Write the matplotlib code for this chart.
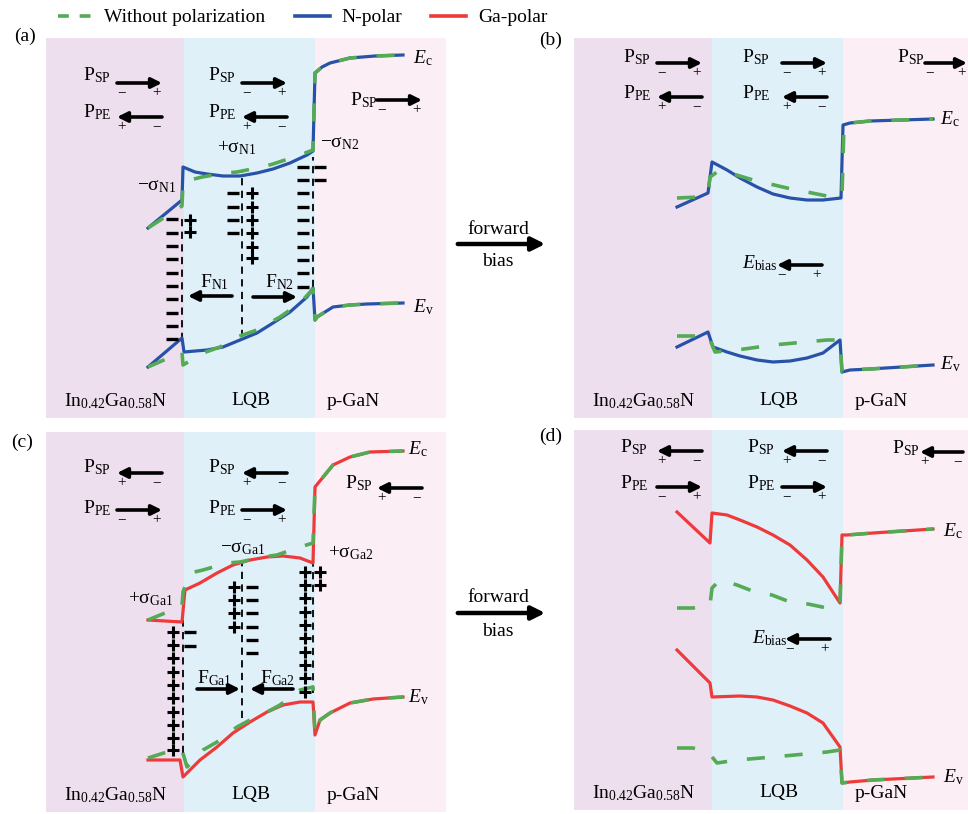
import matplotlib.pyplot as plt
from matplotlib.lines import Line2D
from matplotlib.patches import FancyArrowPatch

plt.rcParams['font.family'] = ['Liberation Serif', 'DejaVu Serif']
plt.rcParams['mathtext.fontset'] = 'custom'
plt.rcParams['mathtext.rm'] = 'Liberation Serif'
plt.rcParams['mathtext.it'] = 'Liberation Serif:italic'
plt.rcParams['mathtext.bf'] = 'Liberation Serif:bold'

# ---- data (x = position, E = energy, both in arbitrary units) ----
region_edges = [0, 138, 269, 400]
region_names = [r"$\mathrm{In}_{0.42}\mathrm{Ga}_{0.58}\mathrm{N}$", "LQB", "p-GaN"]
region_label_x = [70, 205, 307]

# (a) N-polar, zero bias
a_ec_x = [102, 136, 137, 149, 161, 177, 194, 211, 227, 244, 261, 267, 269, 276, 284, 304, 329, 357]
a_ec_y = [190, 218, 251, 246, 244, 242, 242, 245, 249, 255, 263, 267, 345, 351, 355, 360, 362, 363]
a_ev_x = [102, 136, 138, 161, 177, 194, 211, 227, 244, 261, 267, 269, 271, 287, 304, 321, 357]
a_ev_y = [51, 80, 66, 68, 71, 78, 85, 95, 106, 121, 130, 98, 101, 111, 113, 114, 115]
a0_ec_x = [102, 136, 137, 144, 156, 179, 191, 216, 227, 254, 267, 269, 276, 284, 304, 329, 357]
a0_ec_y = [190, 212, 236, 238, 241, 245, 246, 251, 254, 263, 268, 345, 351, 355, 360, 362, 363]
a0_ev_x = [102, 136, 137, 157, 174, 191, 211, 234, 254, 267, 269, 271, 287, 304, 321, 357]
a0_ev_y = [51, 66, 53, 65, 71, 81, 88, 101, 115, 129, 98, 101, 111, 113, 114, 115]

# (b) N-polar, forward bias
b_ec_x = [103, 134, 138, 153, 166, 183, 199, 216, 233, 249, 267, 269, 276, 296, 359]
b_ec_y = [211, 225, 256, 248, 240, 231, 224, 220, 218, 218, 220, 293, 295, 297, 299]
b_ev_x = [103, 134, 139, 153, 166, 183, 199, 216, 233, 249, 266, 268, 276, 296, 359]
b_ev_y = [71, 86, 71, 66, 62, 58, 56, 57, 60, 65, 78, 46, 48, 49, 53]
b0_ec_x = [103, 126, 134, 136, 146, 179, 213, 253, 266, 268, 270, 276, 296, 359]
b0_ec_y = [220, 221, 225, 241, 248, 238, 230, 222, 223, 223, 293, 295, 297, 299]
b0_ev_x = [103, 129, 134, 141, 163, 199, 253, 266, 268, 276, 296, 359]
b0_ev_y = [82, 82, 83, 66, 68, 73, 78, 78, 46, 48, 49, 53]

# (c) Ga-polar, zero bias
c_ec_x = [102, 136, 139, 154, 171, 187, 204, 221, 237, 254, 267, 269, 287, 304, 324, 357]
c_ec_y = [192, 190, 222, 229, 239, 247, 252, 255, 256, 254, 249, 325, 347, 355, 360, 361]
c_ev_x = [102, 134, 137, 154, 171, 187, 204, 221, 237, 254, 267, 269, 274, 284, 304, 327, 357]
c_ev_y = [52, 52, 35, 52, 65, 79, 90, 100, 107, 110, 110, 77, 92, 99, 109, 113, 115]
c0_ec_x = [102, 119, 136, 137, 144, 157, 181, 194, 217, 231, 254, 267, 269, 287, 304, 324, 357]
c0_ec_y = [192, 199, 206, 220, 239, 242, 249, 250, 255, 257, 265, 269, 325, 347, 355, 360, 361]
c0_ev_x = [102, 121, 136, 141, 157, 171, 191, 204, 221, 234, 254, 267, 269, 274, 284, 304, 327, 357]
c0_ev_y = [54, 60, 62, 45, 62, 70, 85, 92, 100, 107, 122, 125, 77, 92, 99, 109, 113, 115]

# (d) Ga-polar, forward bias
d_ec_x = [103, 136, 138, 153, 166, 183, 199, 216, 233, 249, 266, 268, 273, 299, 359]
d_ec_y = [298, 267, 297, 295, 290, 283, 275, 265, 250, 233, 207, 275, 275, 277, 281]
d_ev_x = [103, 136, 138, 166, 183, 199, 216, 233, 249, 266, 268, 276, 299, 359]
d_ev_y = [160, 127, 113, 114, 113, 110, 104, 97, 87, 63, 27, 28, 30, 33]
d0_ec_x = [103, 119, 136, 138, 146, 163, 181, 198, 216, 234, 253, 266, 268, 273, 299, 359]
d0_ec_y = [202, 202, 205, 222, 230, 225, 218, 215, 208, 206, 202, 204, 275, 275, 277, 281]
d0_ev_x = [103, 119, 134, 143, 163, 199, 253, 266, 268, 276, 299, 359]
d0_ev_y = [62, 62, 58, 47, 50, 53, 58, 60, 27, 28, 30, 33]

# interface charges
a_minus_x = [126] * 10 + [187] * 4 + [257] * 10 + [274] * 2
a_minus_y = ([199, 185, 172, 159, 145, 132, 119, 105, 92, 79] + [225, 211, 198, 185]
             + [251, 238, 225, 211, 198, 185, 171, 158, 145, 131] + [251, 238])
a_plus_x = [144] * 2 + [206] * 6
a_plus_y = [198, 186] + [225, 211, 198, 185, 171, 160]
c_plus_x = [127] * 10 + [188] * 4 + [259] * 10 + [274] * 2
c_plus_y = ([180, 167, 154, 140, 127, 114, 100, 87, 74, 62] + [225, 212, 199, 185]
            + [240, 227, 214, 200, 187, 174, 160, 147, 134, 120] + [240, 227])
c_minus_x = [144] * 2 + [206] * 6
c_minus_y = [180, 166] + [225, 212, 199, 185, 172, 159]

W, H = 968, 814
C_N = '#2752A8'
C_GA = '#EE3A3A'
C_0 = '#55AA55'
BG = ['#EEDFEE', '#E0F0F9', '#FBEFF5']
DASH = (0, (5, 5.5))

fig = plt.figure(figsize=(W / 100, H / 100), dpi=100)


def panel(left, bottom):
    ax = fig.add_axes([left / W, (H - bottom) / H, 400 / W, 380 / H])
    ax.set_xlim(0, 400)
    ax.set_ylim(0, 380)
    ax.set_axis_off()
    for i in range(3):
        ax.axvspan(region_edges[i], region_edges[i + 1], color=BG[i], lw=0, zorder=0)
        ax.text(region_label_x[i], 17, region_names[i], ha='center', va='center', fontsize=14)
    return ax


def bands(ax, col, ec, ev, ec0, ev0):
    ax.plot(ec[0], ec[1], color=col, lw=2.3, zorder=3)
    ax.plot(ev[0], ev[1], color=col, lw=2.3, zorder=3)
    ax.plot(ec0[0], ec0[1], color=C_0, lw=2.6, ls=DASH, zorder=4)
    ax.plot(ev0[0], ev0[1], color=C_0, lw=2.6, ls=DASH, zorder=4)


def arrow(ax, x0, x1, y, lw=2.6, ms=15):
    ax.annotate('', xy=(x1, y), xytext=(x0, y),
                arrowprops=dict(arrowstyle='-|>', color='k', lw=lw, mutation_scale=ms,
                                shrinkA=0, shrinkB=0), zorder=5)


def pol(ax, x, y, label, right, dx=34, dy=-2, signs=None, length=45):
    ax.text(x, y, label, ha='left', va='baseline', fontsize=14)
    x0, x1 = x + dx, x + dx + length
    if right:
        arrow(ax, x0, x1, y + dy)
        s = signs or ('\u2212', '+')
    else:
        arrow(ax, x1, x0, y + dy)
        s = signs or ('+', '\u2212')
    ax.text(x0 + 5, y + dy - 10, s[0], ha='center', va='center', fontsize=11)
    ax.text(x1 - 5, y + dy - 10, s[1], ha='center', va='center', fontsize=11)


def charges(ax, mx, my, px, py):
    ax.plot(mx, my, ls='none', marker='_', ms=9, mew=2.4, color='k', zorder=6)
    ax.plot(px, py, ls='none', marker='+', ms=8, mew=2.2, color='k', zorder=6)


def energy_labels(ax, x, yc, yv):
    ax.text(x, yc, r"$E_{\mathrm{c}}$", ha='left', va='center', fontsize=14)
    ax.text(x, yv, r"$E_{\mathrm{v}}$", ha='left', va='center', fontsize=14)


PSP = r"$\mathrm{P}_{\mathrm{SP}}$"
PPE = r"$\mathrm{P}_{\mathrm{PE}}$"
EB = r"$E_{\mathrm{bias}}$"
M = '\u2212'

# ---- (a) ----
ax = panel(46, 418)
bands(ax, C_N, (a_ec_x, a_ec_y), (a_ev_x, a_ev_y), (a0_ec_x, a0_ec_y), (a0_ev_x, a0_ev_y))
pol(ax, 37, 338, PSP, True, dy=-3)
pol(ax, 37, 301, PPE, False, dy=0)
pol(ax, 162, 338, PSP, True, dy=-3)
pol(ax, 162, 301, PPE, False, dy=0)
pol(ax, 304, 313, PSP, True, dx=27, dy=5)
ax.vlines([136, 196, 267], [78, 81, 131], [200, 248, 261], colors='k', lw=1.3,
          linestyles=(0, (4, 3)), zorder=2)
charges(ax, a_minus_x, a_minus_y, a_plus_x, a_plus_y)
ax.text(91, 228, r"$-\mathrm{σ}_{\mathrm{N1}}$", fontsize=14, va='baseline')
ax.text(171, 266, r"$+\mathrm{σ}_{\mathrm{N1}}$", fontsize=14, va='baseline')
ax.text(274, 271, r"$-\mathrm{σ}_{\mathrm{N2}}$", fontsize=14, va='baseline')
ax.text(154, 131, r"$\mathrm{F}_{\mathrm{N1}}$", fontsize=14, va='baseline')
ax.text(219, 131, r"$\mathrm{F}_{\mathrm{N2}}$", fontsize=14, va='baseline')
arrow(ax, 186, 142, 122)
arrow(ax, 207, 251, 121)
energy_labels(ax, 367, 360, 111)

# ---- (b) ----
ax = panel(574, 418)
bands(ax, C_N, (b_ec_x, b_ec_y), (b_ev_x, b_ev_y), (b0_ec_x, b0_ec_y), (b0_ev_x, b0_ev_y))
pol(ax, 49, 356, PSP, True, dy=-1)
pol(ax, 49, 320, PPE, False, dy=1)
pol(ax, 168, 356, PSP, True, dx=40, dy=-1)
pol(ax, 168, 320, PPE, False, dx=40, dy=1)
pol(ax, 323, 356, PSP, True, dx=28, dy=-1, length=42)
pol(ax, 168, 150, EB, False, dx=35, dy=3, signs=(M, '+'))
energy_labels(ax, 366, 299, 54)

# ---- (c) ----
ax = panel(46, 812)
bands(ax, C_GA, (c_ec_x, c_ec_y), (c_ev_x, c_ev_y), (c0_ec_x, c0_ec_y), (c0_ev_x, c0_ev_y))
pol(ax, 37, 340, PSP, False, dy=-1)
pol(ax, 37, 299, PPE, True, dy=3)
pol(ax, 162, 340, PSP, False, dy=-1)
pol(ax, 162, 299, PPE, True, dy=3)
pol(ax, 299, 324, PSP, False, dx=32, dy=0)
ax.vlines([137, 196, 267], [59, 94, 119], [192, 250, 249], colors='k', lw=1.3,
          linestyles=(0, (4, 3)), zorder=2)
charges(ax, c_minus_x, c_minus_y, c_plus_x, c_plus_y)
ax.text(82, 209, r"$+\mathrm{σ}_{\mathrm{Ga1}}$", fontsize=14, va='baseline')
ax.text(174, 260, r"$-\mathrm{σ}_{\mathrm{Ga1}}$", fontsize=14, va='baseline')
ax.text(282, 255, r"$+\mathrm{σ}_{\mathrm{Ga2}}$", fontsize=14, va='baseline')
ax.text(151, 129, r"$\mathrm{F}_{\mathrm{Ga1}}$", fontsize=14, va='baseline')
ax.text(214, 129, r"$\mathrm{F}_{\mathrm{Ga2}}$", fontsize=14, va='baseline')
arrow(ax, 151, 194, 123)
arrow(ax, 247, 204, 123)
energy_labels(ax, 362, 363, 115)

# ---- (d) ----
ax = panel(574, 810)
bands(ax, C_GA, (d_ec_x, d_ec_y), (d_ev_x, d_ev_y), (d0_ec_x, d0_ec_y), (d0_ev_x, d0_ev_y))
pol(ax, 46, 358, PSP, False, dx=37, dy=1)
pol(ax, 46, 322, PPE, True, dx=37, dy=1)
pol(ax, 173, 358, PSP, False, dx=35, dy=1)
pol(ax, 173, 322, PPE, True, dx=35, dy=1)
pol(ax, 318, 357, PSP, False, dx=28, dy=1, length=43)
pol(ax, 178, 167, EB, False, dx=33, dy=4, signs=(M, '+'))
energy_labels(ax, 369, 279, 33)

# ---- figure-level labels ----
for lab, x, y in [('(a)', 25, 36), ('(b)', 551, 40), ('(c)', 22, 442), ('(d)', 551, 436)]:
    fig.text(x / W, 1 - y / H, lab, ha='center', va='center', fontsize=14)

for y in [244, 613]:
    fig.add_artist(FancyArrowPatch((455 / W, 1 - y / H), (548 / W, 1 - y / H),
                                   transform=fig.transFigure, arrowstyle='-|>',
                                   mutation_scale=20, lw=3.2, color='k'))
    fig.text(498 / W, 1 - (y - 15) / H, 'forward', ha='center', va='center', fontsize=14)
    fig.text(498 / W, 1 - (y + 18) / H, 'bias', ha='center', va='center', fontsize=14)

handles = [Line2D([], [], color=C_0, lw=2.6, ls=(0, (3, 3))),
           Line2D([], [], color=C_N, lw=2.6),
           Line2D([], [], color=C_GA, lw=2.6)]
fig.legend(handles, ['Without polarization', 'N-polar', 'Ga-polar'], loc='upper left',
           bbox_to_anchor=(50 / W, 1 - 1 / H), ncol=3, frameon=False, fontsize=14,
           handlelength=1.8, handletextpad=0.6, columnspacing=1.5, borderaxespad=0)

fig.savefig('out.png', dpi=100)
